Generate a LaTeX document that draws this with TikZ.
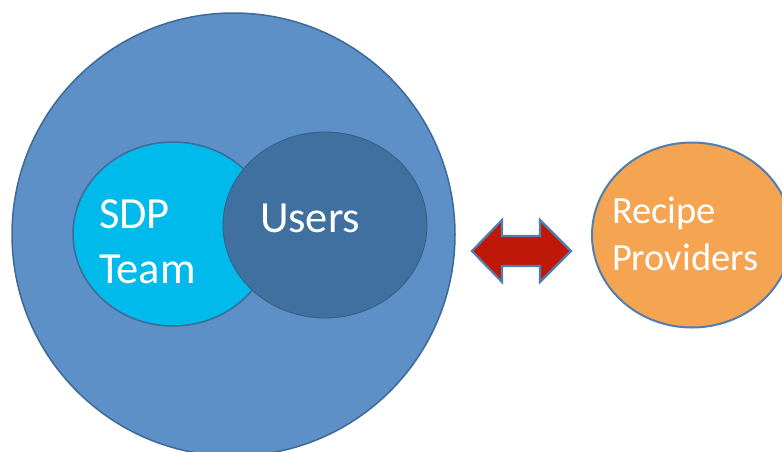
\documentclass[tikz,border=0pt]{standalone}
\usepackage{fontspec}
\setmainfont{Carlito}
\usetikzlibrary{shapes.geometric}
\definecolor{bigfill}{RGB}{93,144,198}
\definecolor{bigline}{RGB}{62,105,152}
\definecolor{sdpfill}{RGB}{0,186,236}
\definecolor{userfill}{RGB}{64,112,160}
\definecolor{orangefill}{RGB}{245,164,82}
\definecolor{arrowfill}{RGB}{192,24,8}
\definecolor{arrowline}{RGB}{80,126,176}
\tikzset{
  blob/.style={ellipse, inner sep=0pt, outer sep=0pt, line width=1.5pt, draw=bigline},
  lbl/.style={anchor=base west, inner sep=0pt, outer sep=0pt, text=white, align=left},
}
\begin{document}
\begin{tikzpicture}[x=1pt,y=-1pt]
\useasboundingbox (0,0) rectangle (782,451);
\node[blob, fill=bigfill, minimum width=443pt, minimum height=443pt] (big) at (233.5,234.5) {};
\node[blob, fill=sdpfill, minimum width=200pt, minimum height=184pt] (sdp) at (173,234) {};
\node[blob, fill=userfill, draw=userfill!85!black, line width=0.8pt, minimum width=204pt, minimum height=186pt] (users) at (325,225) {};
\node[blob, fill=orangefill, line width=2pt, draw=arrowline, minimum width=200pt, minimum height=185pt] (rp) at (692,235) {};
\node[lbl, font=\fontsize{44.5}{55}\selectfont] (sdpt) at (99,283) {SDP\\Team};
\node[lbl, font=\fontsize{44.5}{55}\selectfont] (usert) at (260,232) {Users};
\node[lbl, font=\fontsize{38.5}{47}\selectfont] (rpt) at (612,270) {Recipe\\Providers};
\draw[fill=arrowfill, draw=arrowline, line width=2.2pt, line join=miter]
  (472,251) -- (502,220) -- (502,236) -- (540,236) -- (540,220) -- (571,251)
  -- (540,282) -- (540,266) -- (502,266) -- (502,282) -- cycle;
\end{tikzpicture}
\end{document}
